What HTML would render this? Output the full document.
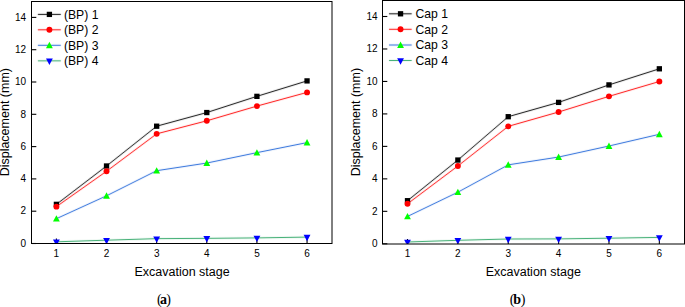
<!DOCTYPE html>
<html><head><meta charset="utf-8"><style>
html,body{margin:0;padding:0;background:#fff;width:685px;height:307px;overflow:hidden}
svg{display:block}
</style></head><body>
<svg width="685" height="307" viewBox="0 0 685 307">
<style>
text{font-family:"Liberation Sans",sans-serif;fill:#000}
.tk{font-size:10px}
.lg{font-size:12.2px}
.ti{font-size:12.5px}
.cap{font-family:"Liberation Serif",serif;font-size:14px}
</style>
<defs><filter id="soft" x="0" y="0" width="685" height="307" filterUnits="userSpaceOnUse" color-interpolation-filters="sRGB"><feConvolveMatrix order="3" kernelMatrix="0.0049 0.0602 0.0049 0.0602 0.7396 0.0602 0.0049 0.0602 0.0049" divisor="1" edgeMode="none" preserveAlpha="false"/></filter></defs>
<rect width="685" height="307" fill="#fff"/>
<g filter="url(#soft)"><polyline points="56.40,204.35 106.53,166.00 156.66,126.20 206.79,112.55 256.92,96.35 307.05,80.90" fill="none" stroke="#000000" stroke-width="1.0"/><polyline points="56.40,206.65 106.53,171.25 156.66,133.85 206.79,120.80 256.92,106.10 307.05,92.40" fill="none" stroke="#ff0000" stroke-width="1.0"/><polyline points="56.40,218.70 106.53,195.80 156.66,170.70 206.79,163.05 256.92,152.65 307.05,142.60" fill="none" stroke="#1e64d8" stroke-width="1.0"/><polyline points="56.40,241.80 106.53,240.20 156.66,238.65 206.79,238.35 256.92,237.90 307.05,237.10" fill="none" stroke="#2ba564" stroke-width="1.0"/><line x1="37.9" y1="14.4" x2="60.8" y2="14.4" stroke="#000000" stroke-width="1"/><line x1="37.9" y1="29.8" x2="60.8" y2="29.8" stroke="#ff0000" stroke-width="1"/><line x1="37.9" y1="45.3" x2="60.8" y2="45.3" stroke="#1e64d8" stroke-width="1"/><line x1="37.9" y1="60.85" x2="60.8" y2="60.85" stroke="#2ba564" stroke-width="1"/></g>
<clipPath id="cl"><rect x="31.5" y="1.5" width="300.5" height="242.3"/></clipPath>
<line x1="31.5" y1="243.50" x2="36.3" y2="243.50" stroke="#000" stroke-width="1.1"/>
<text x="26.1" y="246.70" text-anchor="end" class="tk">0</text>
<line x1="31.5" y1="211.20" x2="36.3" y2="211.20" stroke="#000" stroke-width="1.1"/>
<text x="26.1" y="214.40" text-anchor="end" class="tk">2</text>
<line x1="31.5" y1="178.90" x2="36.3" y2="178.90" stroke="#000" stroke-width="1.1"/>
<text x="26.1" y="182.10" text-anchor="end" class="tk">4</text>
<line x1="31.5" y1="146.60" x2="36.3" y2="146.60" stroke="#000" stroke-width="1.1"/>
<text x="26.1" y="149.80" text-anchor="end" class="tk">6</text>
<line x1="31.5" y1="114.30" x2="36.3" y2="114.30" stroke="#000" stroke-width="1.1"/>
<text x="26.1" y="117.50" text-anchor="end" class="tk">8</text>
<line x1="31.5" y1="82.00" x2="36.3" y2="82.00" stroke="#000" stroke-width="1.1"/>
<text x="26.1" y="85.20" text-anchor="end" class="tk">10</text>
<line x1="31.5" y1="49.70" x2="36.3" y2="49.70" stroke="#000" stroke-width="1.1"/>
<text x="26.1" y="52.90" text-anchor="end" class="tk">12</text>
<line x1="31.5" y1="17.40" x2="36.3" y2="17.40" stroke="#000" stroke-width="1.1"/>
<text x="26.1" y="20.60" text-anchor="end" class="tk">14</text>
<line x1="56.40" y1="243.5" x2="56.40" y2="238.5" stroke="#000" stroke-width="1.1"/>
<text x="56.40" y="256.6" text-anchor="middle" class="tk">1</text>
<line x1="106.53" y1="243.5" x2="106.53" y2="238.5" stroke="#000" stroke-width="1.1"/>
<text x="106.53" y="256.6" text-anchor="middle" class="tk">2</text>
<line x1="156.66" y1="243.5" x2="156.66" y2="238.5" stroke="#000" stroke-width="1.1"/>
<text x="156.66" y="256.6" text-anchor="middle" class="tk">3</text>
<line x1="206.79" y1="243.5" x2="206.79" y2="238.5" stroke="#000" stroke-width="1.1"/>
<text x="206.79" y="256.6" text-anchor="middle" class="tk">4</text>
<line x1="256.92" y1="243.5" x2="256.92" y2="238.5" stroke="#000" stroke-width="1.1"/>
<text x="256.92" y="256.6" text-anchor="middle" class="tk">5</text>
<line x1="307.05" y1="243.5" x2="307.05" y2="238.5" stroke="#000" stroke-width="1.1"/>
<text x="307.05" y="256.6" text-anchor="middle" class="tk">6</text>
<g clip-path="url(#cl)"><rect x="53.75" y="201.70" width="5.3" height="5.3" fill="#000"/><rect x="103.88" y="163.35" width="5.3" height="5.3" fill="#000"/><rect x="154.01" y="123.55" width="5.3" height="5.3" fill="#000"/><rect x="204.14" y="109.90" width="5.3" height="5.3" fill="#000"/><rect x="254.27" y="93.70" width="5.3" height="5.3" fill="#000"/><rect x="304.40" y="78.25" width="5.3" height="5.3" fill="#000"/><circle cx="56.40" cy="206.65" r="2.95" fill="#ff0000"/><circle cx="106.53" cy="171.25" r="2.95" fill="#ff0000"/><circle cx="156.66" cy="133.85" r="2.95" fill="#ff0000"/><circle cx="206.79" cy="120.80" r="2.95" fill="#ff0000"/><circle cx="256.92" cy="106.10" r="2.95" fill="#ff0000"/><circle cx="307.05" cy="92.40" r="2.95" fill="#ff0000"/><polygon points="56.40,215.18 53.00,221.58 59.80,221.58" fill="#00ff00"/><polygon points="106.53,192.28 103.13,198.68 109.93,198.68" fill="#00ff00"/><polygon points="156.66,167.18 153.26,173.58 160.06,173.58" fill="#00ff00"/><polygon points="206.79,159.53 203.39,165.93 210.19,165.93" fill="#00ff00"/><polygon points="256.92,149.13 253.52,155.53 260.32,155.53" fill="#00ff00"/><polygon points="307.05,139.08 303.65,145.48 310.45,145.48" fill="#00ff00"/><polygon points="53.00,239.56 59.80,239.56 56.40,245.96" fill="#0000ff"/><polygon points="103.13,237.96 109.93,237.96 106.53,244.36" fill="#0000ff"/><polygon points="153.26,236.41 160.06,236.41 156.66,242.81" fill="#0000ff"/><polygon points="203.39,236.11 210.19,236.11 206.79,242.51" fill="#0000ff"/><polygon points="253.52,235.66 260.32,235.66 256.92,242.06" fill="#0000ff"/><polygon points="303.65,234.86 310.45,234.86 307.05,241.26" fill="#0000ff"/></g>
<rect x="31.5" y="1.5" width="300.5" height="242.0" fill="none" stroke="#000" stroke-width="1.0"/>
<rect x="46.75" y="11.75" width="5.3" height="5.3" fill="#000"/>
<text x="63.9" y="18.70" class="lg">(BP) 1</text>
<circle cx="49.40" cy="29.80" r="2.95" fill="#ff0000"/>
<text x="63.9" y="34.10" class="lg">(BP) 2</text>
<polygon points="49.40,41.78 46.00,48.18 52.80,48.18" fill="#00ff00"/>
<text x="63.9" y="49.60" class="lg">(BP) 3</text>
<polygon points="46.00,58.61 52.80,58.61 49.40,65.01" fill="#0000ff"/>
<text x="63.9" y="65.15" class="lg">(BP) 4</text>
<text x="182.05" y="275.6" text-anchor="middle" class="ti">Excavation stage</text>
<text transform="translate(9.45,122.2) rotate(-90)" text-anchor="middle" class="ti">Displacement (mm)</text>
<g filter="url(#soft)"><polyline points="407.50,200.70 457.87,160.05 508.24,116.70 558.61,102.40 608.98,84.90 659.35,68.80" fill="none" stroke="#000000" stroke-width="1.0"/><polyline points="407.50,203.80 457.87,166.00 508.24,126.35 558.61,112.00 608.98,96.35 659.35,81.50" fill="none" stroke="#ff0000" stroke-width="1.0"/><polyline points="407.50,216.45 457.87,192.20 508.24,164.85 558.61,157.05 608.98,146.00 659.35,134.30" fill="none" stroke="#1e64d8" stroke-width="1.0"/><polyline points="407.50,242.00 457.87,240.30 508.24,239.00 558.61,238.90 608.98,238.20 659.35,237.40" fill="none" stroke="#2ba564" stroke-width="1.0"/><line x1="389.0" y1="13.8" x2="411.7" y2="13.8" stroke="#000000" stroke-width="1"/><line x1="389.0" y1="29.3" x2="411.7" y2="29.3" stroke="#ff0000" stroke-width="1"/><line x1="389.0" y1="45.0" x2="411.7" y2="45.0" stroke="#1e64d8" stroke-width="1"/><line x1="389.0" y1="60.5" x2="411.7" y2="60.5" stroke="#2ba564" stroke-width="1"/></g>
<clipPath id="cr"><rect x="382.5" y="0.5" width="302.0" height="243.3"/></clipPath>
<line x1="382.5" y1="243.80" x2="387.3" y2="243.80" stroke="#000" stroke-width="1.1"/>
<text x="377.5" y="247.20" text-anchor="end" class="tk">0</text>
<line x1="382.5" y1="211.33" x2="387.3" y2="211.33" stroke="#000" stroke-width="1.1"/>
<text x="377.5" y="214.73" text-anchor="end" class="tk">2</text>
<line x1="382.5" y1="178.86" x2="387.3" y2="178.86" stroke="#000" stroke-width="1.1"/>
<text x="377.5" y="182.26" text-anchor="end" class="tk">4</text>
<line x1="382.5" y1="146.38" x2="387.3" y2="146.38" stroke="#000" stroke-width="1.1"/>
<text x="377.5" y="149.78" text-anchor="end" class="tk">6</text>
<line x1="382.5" y1="113.91" x2="387.3" y2="113.91" stroke="#000" stroke-width="1.1"/>
<text x="377.5" y="117.31" text-anchor="end" class="tk">8</text>
<line x1="382.5" y1="81.44" x2="387.3" y2="81.44" stroke="#000" stroke-width="1.1"/>
<text x="377.5" y="84.84" text-anchor="end" class="tk">10</text>
<line x1="382.5" y1="48.97" x2="387.3" y2="48.97" stroke="#000" stroke-width="1.1"/>
<text x="377.5" y="52.37" text-anchor="end" class="tk">12</text>
<line x1="382.5" y1="16.50" x2="387.3" y2="16.50" stroke="#000" stroke-width="1.1"/>
<text x="377.5" y="19.90" text-anchor="end" class="tk">14</text>
<line x1="407.50" y1="244.0" x2="407.50" y2="239.0" stroke="#000" stroke-width="1.1"/>
<text x="407.50" y="256.6" text-anchor="middle" class="tk">1</text>
<line x1="457.87" y1="244.0" x2="457.87" y2="239.0" stroke="#000" stroke-width="1.1"/>
<text x="457.87" y="256.6" text-anchor="middle" class="tk">2</text>
<line x1="508.24" y1="244.0" x2="508.24" y2="239.0" stroke="#000" stroke-width="1.1"/>
<text x="508.24" y="256.6" text-anchor="middle" class="tk">3</text>
<line x1="558.61" y1="244.0" x2="558.61" y2="239.0" stroke="#000" stroke-width="1.1"/>
<text x="558.61" y="256.6" text-anchor="middle" class="tk">4</text>
<line x1="608.98" y1="244.0" x2="608.98" y2="239.0" stroke="#000" stroke-width="1.1"/>
<text x="608.98" y="256.6" text-anchor="middle" class="tk">5</text>
<line x1="659.35" y1="244.0" x2="659.35" y2="239.0" stroke="#000" stroke-width="1.1"/>
<text x="659.35" y="256.6" text-anchor="middle" class="tk">6</text>
<g clip-path="url(#cr)"><rect x="404.85" y="198.05" width="5.3" height="5.3" fill="#000"/><rect x="455.22" y="157.40" width="5.3" height="5.3" fill="#000"/><rect x="505.59" y="114.05" width="5.3" height="5.3" fill="#000"/><rect x="555.96" y="99.75" width="5.3" height="5.3" fill="#000"/><rect x="606.33" y="82.25" width="5.3" height="5.3" fill="#000"/><rect x="656.70" y="66.15" width="5.3" height="5.3" fill="#000"/><circle cx="407.50" cy="203.80" r="2.95" fill="#ff0000"/><circle cx="457.87" cy="166.00" r="2.95" fill="#ff0000"/><circle cx="508.24" cy="126.35" r="2.95" fill="#ff0000"/><circle cx="558.61" cy="112.00" r="2.95" fill="#ff0000"/><circle cx="608.98" cy="96.35" r="2.95" fill="#ff0000"/><circle cx="659.35" cy="81.50" r="2.95" fill="#ff0000"/><polygon points="407.50,212.93 404.10,219.33 410.90,219.33" fill="#00ff00"/><polygon points="457.87,188.68 454.47,195.08 461.27,195.08" fill="#00ff00"/><polygon points="508.24,161.33 504.84,167.73 511.64,167.73" fill="#00ff00"/><polygon points="558.61,153.53 555.21,159.93 562.01,159.93" fill="#00ff00"/><polygon points="608.98,142.48 605.58,148.88 612.38,148.88" fill="#00ff00"/><polygon points="659.35,130.78 655.95,137.18 662.75,137.18" fill="#00ff00"/><polygon points="404.10,239.76 410.90,239.76 407.50,246.16" fill="#0000ff"/><polygon points="454.47,238.06 461.27,238.06 457.87,244.46" fill="#0000ff"/><polygon points="504.84,236.76 511.64,236.76 508.24,243.16" fill="#0000ff"/><polygon points="555.21,236.66 562.01,236.66 558.61,243.06" fill="#0000ff"/><polygon points="605.58,235.96 612.38,235.96 608.98,242.36" fill="#0000ff"/><polygon points="655.95,235.16 662.75,235.16 659.35,241.56" fill="#0000ff"/></g>
<rect x="382.5" y="0.5" width="302.0" height="243.5" fill="none" stroke="#000" stroke-width="1.0"/>
<rect x="397.90" y="11.15" width="5.3" height="5.3" fill="#000"/>
<text x="415.5" y="18.10" class="lg">Cap 1</text>
<circle cx="400.55" cy="29.30" r="2.95" fill="#ff0000"/>
<text x="415.5" y="33.60" class="lg">Cap 2</text>
<polygon points="400.55,41.48 397.15,47.88 403.95,47.88" fill="#00ff00"/>
<text x="415.5" y="49.30" class="lg">Cap 3</text>
<polygon points="397.15,58.26 403.95,58.26 400.55,64.66" fill="#0000ff"/>
<text x="415.5" y="64.80" class="lg">Cap 4</text>
<text x="533.25" y="275.6" text-anchor="middle" class="ti">Excavation stage</text>
<text transform="translate(360.3,122.1) rotate(-90)" text-anchor="middle" class="ti">Displacement (mm)</text>
<text x="156.9" y="304" class="cap">(<tspan font-weight="bold" dx="-1.5">a</tspan><tspan dx="-0.9">)</tspan></text>
<text x="509.7" y="304" class="cap">(<tspan font-weight="bold" dx="-1.2">b</tspan><tspan dx="-0.2">)</tspan></text>
</svg>
</body></html>
